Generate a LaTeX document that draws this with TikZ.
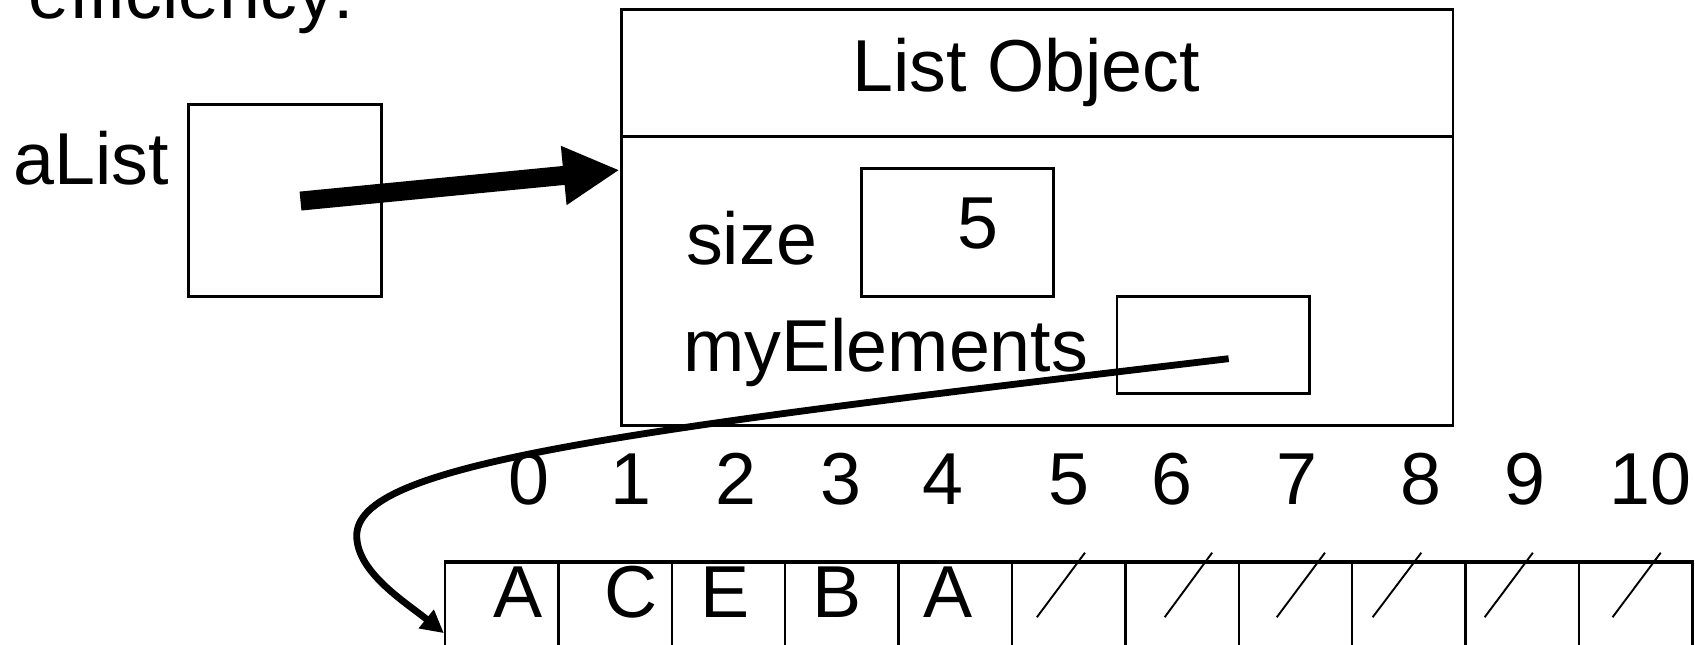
\documentclass[tikz,border=0pt]{standalone}
\usepackage{fontspec}
\setmainfont{Liberation Sans}
\usetikzlibrary{arrows.meta}
\begin{document}
\begin{tikzpicture}[x=0.01cm,y=-0.01cm,
  lbl/.style={inner sep=0pt, font=\fontsize{19.36pt}{23pt}\selectfont},
  box/.style={draw, line width=0.75pt, inner sep=0pt},
  cell/.style={draw, line width=0.6pt, inner sep=0pt, minimum width=1.049cm, minimum height=1.3cm},
  slash/.style={line width=0.5pt},
  ptr/.style={line width=1.8pt, -{Triangle[length=2.1mm,width=2.1mm]}},
  bigptr/.style={line width=5pt, -{Triangle[length=5.2mm,width=5.1mm]}}]
\useasboundingbox (0,0) rectangle (1568,595.8);
\clip (0,0) rectangle (1568,595.8);

\node[lbl, anchor=base west] (eff) at (25.6,17) {efficiency:};
\node[lbl, anchor=base west] (alist) at (11.7,171.1) {aList};
\node[box, minimum width=1.788cm, minimum height=1.779cm] (abox) at (263.6,185.45) {};

\node[box, minimum width=7.691cm, minimum height=3.846cm] (lobj) at (959.35,200.9) {};
\coordinate (divl) at (574.8,126.4);
\coordinate (divr) at (1343.9,126.4);
\draw[line width=0.75pt] (divl) -- (divr);
\node[lbl, anchor=base] (title) at (949.5,84.8) {List Object};

\node[lbl, anchor=base west] (size) at (634,245) {size};
\node[box, minimum width=1.779cm, minimum height=1.181cm] (sbox) at (885.85,215.35) {};
\node[lbl, anchor=base] (five) at (904.6,229.7) {5};

\node[lbl, anchor=base west] (myel) at (631.4,343.8) {myElements};
\node[box, minimum width=1.777cm, minimum height=0.895cm] (mbox) at (1122.15,319.15) {};

\foreach \i in {0,...,10}
  \node[cell] (c\i) at ({464.15+104.9*\i},585.7) {};
\draw[line width=0.75pt] (c0.north west) -- (c10.north east);

\foreach \n/\x in {0/489.5,1/584,2/681,3/778,4/872,5/988.8,6/1084.5,7/1199.5,8/1314.8,9/1410.5,10/1526.8}
  \node[lbl, anchor=base] (n\n) at (\x,467) {\n};

\foreach \j/\l/\x in {0/A/479,1/C/584,2/E/671,3/B/774,4/A/877}
  \node[lbl, anchor=base] (v\j) at (\x,571) {\l};

\foreach \a/\b in {959.2/1003.7,1077.4/1121.3,1181.1/1225.7,1269.8/1314.8,1373.4/1418,1491.7/1536.3}
  \draw[slash] (\a,571) -- (\b,511.3);

\coordinate (aStart) at (278,186);
\draw[bigptr] (aStart) -- ([yshift=4.36mm]lobj.west);

\coordinate (mStart) at (1136.6,331.8);
\draw[ptr] (mStart) .. controls (560,400) and (328,430) .. (330,496.5)
  .. controls (331,530) and (375,557) .. (c0.west);
\end{tikzpicture}
\end{document}
